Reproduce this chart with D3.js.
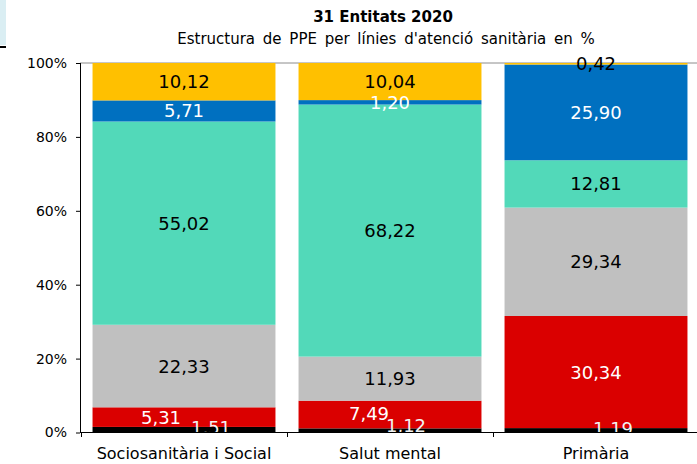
<!DOCTYPE html>
<html>
<head>
<meta charset="utf-8">
<script src="https://cdn.jsdelivr.net/npm/d3@7"></script>
<style>
  body { margin: 0; background: #fff; }
  text { font-family: "DejaVu Sans", Verdana, sans-serif; }
</style>
</head>
<body>
<div id="chart"></div>
<script>
// dades (en %)
const categories = ["Sociosanitària i Social", "Salut mental", "Primària"];
const seriesNames = ["s1", "s2", "s3", "s4", "s5", "s6"];
const s1 = [1.51, 1.12, 1.19];
const s2 = [5.31, 7.49, 30.34];
const s3 = [22.33, 11.93, 29.34];
const s4 = [55.02, 68.22, 12.81];
const s5 = [5.71, 1.20, 25.90];
const s6 = [10.12, 10.04, 0.42];
const yTicks = [0, 20, 40, 60, 80, 100];

const colors = ["#000000", "#DA0000", "#C0C0C0", "#52D9B9", "#0070C0", "#FFC000"];
const labelColors = ["#f2f2f2", "#ffffff", "#000000", "#000000", "#ffffff", "#000000"];

// petits desplaçaments d'etiquetes que se solapen (com a l'Excel)
const nudge = {
  "0|0": [27, -2], "0|1": [-23, 0],
  "1|0": [16, -5], "1|1": [-21, -1],
  "2|0": [17, -2]
};

const W = 697, H = 464;
const svg = d3.select("#chart").append("svg")
  .attr("width", W).attr("height", H);

// decoració a la cantonada
svg.append("rect").attr("x", 0).attr("y", 0).attr("width", 6).attr("height", 45).attr("fill", "#DAEEF3");
svg.append("rect").attr("x", 0).attr("y", 46).attr("width", 6).attr("height", 2).attr("fill", "#000");

const x = d3.scaleBand()
  .domain(categories)
  .range([81, 699])
  .paddingInner(0.112)
  .paddingOuter(0.056);

const y = d3.scaleLinear()
  .domain([0, 100])
  .range([432.5, 63]);

const table = categories.map((c, i) => {
  const row = { cat: c };
  [s1, s2, s3, s4, s5, s6].forEach((s, k) => row[seriesNames[k]] = s[i]);
  return row;
});
const stacked = d3.stack().keys(seriesNames)(table);

// vora superior de l'àrea de dibuix
svg.append("line")
  .attr("x1", 80).attr("x2", W).attr("y1", 63).attr("y2", 63)
  .attr("stroke", "#8c8c8c").attr("stroke-width", 1);

// barres
const layers = svg.selectAll(".layer")
  .data(stacked).enter().append("g")
  .attr("class", "layer")
  .attr("fill", (d, k) => colors[k]);

layers.selectAll("rect")
  .data(d => d).enter().append("rect")
  .attr("x", d => x(d.data.cat))
  .attr("width", x.bandwidth())
  .attr("y", d => y(d[1]))
  .attr("height", d => y(d[0]) - y(d[1]));

// etiquetes
svg.append("clipPath").attr("id", "clip")
  .append("rect").attr("x", 0).attr("y", 40).attr("width", W).attr("height", 392.5);

const labels = svg.append("g").attr("clip-path", "url(#clip)");
stacked.forEach((layer, k) => {
  layer.forEach((d, i) => {
    const n = nudge[i + "|" + k] || [0, 0];
    labels.append("text")
      .attr("x", x(d.data.cat) + x.bandwidth() / 2 + n[0])
      .attr("y", (y(d[0]) + y(d[1])) / 2 + n[1])
      .attr("dy", "0.36em")
      .attr("text-anchor", "middle")
      .attr("font-size", "18px")
      .attr("fill", labelColors[k])
      .text(d3.format(".2f")(d[1] - d[0]).replace(".", ","));
  });
});

// eix Y
const yAxis = svg.append("g")
  .attr("transform", "translate(80,0)")
  .call(d3.axisLeft(y).tickValues(yTicks).tickSize(4).tickPadding(9)
    .tickFormat(d => d + "%"));
yAxis.select(".domain").attr("stroke", "#000").attr("d", "M0.5,63V432.5");
yAxis.selectAll(".tick line").attr("stroke", "#000");
yAxis.selectAll("text").attr("font-size", "14px").attr("fill", "#000")
  .style("font-family", "'DejaVu Sans', Verdana, sans-serif");

// eix X
svg.append("line")
  .attr("x1", 80).attr("x2", W).attr("y1", 432.5).attr("y2", 432.5)
  .attr("stroke", "#000").attr("stroke-width", 1);
svg.selectAll(".xtick")
  .data(categories).enter().append("line")
  .attr("class", "xtick")
  .attr("x1", d => x(d) - x.step() * 0.056 + 0.5)
  .attr("x2", d => x(d) - x.step() * 0.056 + 0.5)
  .attr("y1", 432.5).attr("y2", 437)
  .attr("stroke", "#000");
svg.selectAll(".xlabel")
  .data(categories).enter().append("text")
  .attr("class", "xlabel")
  .attr("x", d => x(d) + x.bandwidth() / 2)
  .attr("y", 459)
  .attr("text-anchor", "middle")
  .attr("font-size", "16px")
  .attr("fill", "#000")
  .text(d => d);

// títols
svg.append("text")
  .attr("x", 383).attr("y", 22)
  .attr("text-anchor", "middle")
  .attr("font-size", "15px").attr("font-weight", "bold")
  .text("31 Entitats 2020");
svg.append("text")
  .attr("x", 386).attr("y", 44)
  .attr("text-anchor", "middle")
  .attr("font-size", "15px")
  .attr("word-spacing", "3px")
  .text("Estructura de PPE per línies d'atenció sanitària en %");
</script>
</body>
</html>
